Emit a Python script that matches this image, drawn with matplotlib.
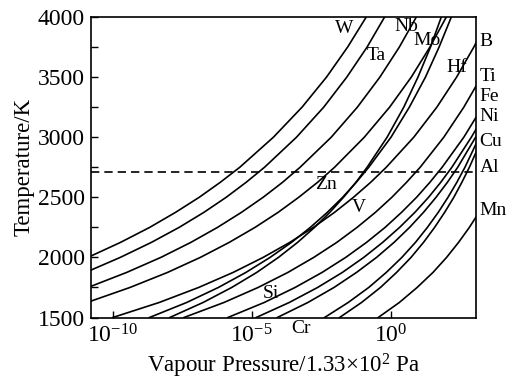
import matplotlib
matplotlib.use("Agg")
import matplotlib.pyplot as plt
import matplotlib.transforms as mtransforms

plt.rcParams["font.family"] = ["Liberation Serif", "DejaVu Serif"]
plt.rcParams["mathtext.fontset"] = "custom"
plt.rcParams["mathtext.rm"] = "Liberation Serif"
plt.rcParams["mathtext.it"] = "Liberation Serif:italic"

# each curve: temperatures (K) and log10 of vapour pressure at those temperatures
T_W = [2010, 2125, 2250, 2375, 2500, 2625, 2750, 3000, 3250, 3500, 3750, 4000]
lp_W = [-10.80, -9.72, -8.67, -7.74, -6.89, -6.13, -5.43, -4.22, -3.19, -2.31, -1.55, -0.88]

T_Ta = [1893, 2000, 2125, 2250, 2375, 2500, 2625, 2750, 3000, 3250, 3500, 3750, 4000]
lp_Ta = [-10.80, -9.73, -8.61, -7.61, -6.72, -5.92, -5.20, -4.54, -3.39, -2.41, -1.58, -0.85, -0.22]

T_Nb = [1758, 1875, 2000, 2125, 2250, 2375, 2500, 2625, 2750, 3000, 3250, 3500, 3750, 4000]
lp_Nb = [-10.80, -9.50, -8.27, -7.19, -6.23, -5.37, -4.59, -3.89, -3.26, -2.14, -1.20, -0.39, 0.31, 0.92]

T_Mo = [1635, 1750, 1875, 2000, 2125, 2250, 2375, 2500, 2625, 2750, 3000, 3250, 3500, 3750, 4000]
lp_Mo = [-10.80, -9.38, -8.03, -6.85, -5.81, -4.88, -4.05, -3.31, -2.63, -2.02, -0.95, -0.04, 0.74, 1.41, 2.00]

T_B = [1500, 1625, 1750, 1875, 2000, 2125, 2250, 2375, 2500, 2625, 2750, 3000, 3250, 3500, 3750, 3790]
lp_B = [-10.00, -8.33, -6.91, -5.67, -4.59, -3.63, -2.78, -2.02, -1.34, -0.72, -0.16, 0.83, 1.66, 2.37, 2.99, 3.08]

T_Hf = [1500, 1625, 1750, 1875, 2000, 2125, 2250, 2375, 2500, 2625, 2750, 3000, 3250, 3500, 3750, 4000]
lp_Hf = [-8.68, -7.34, -6.20, -5.21, -4.34, -3.57, -2.89, -2.28, -1.73, -1.24, -0.79, 0.01, 0.67, 1.25, 1.74, 2.18]

T_V = [1500, 1625, 1750, 1875, 2000, 2125, 2250, 2375, 2500, 2625, 2750, 3000, 3250, 3500, 3750, 4000]
lp_V = [-7.95, -6.75, -5.72, -4.82, -4.04, -3.35, -2.74, -2.19, -1.70, -1.25, -0.85, -0.13, 0.47, 0.98, 1.43, 1.82]

T_Ti = [1500, 1625, 1750, 1875, 2000, 2125, 2250, 2375, 2500, 2625, 2750, 3000, 3250, 3430]
lp_Ti = [-7.44, -6.00, -4.77, -3.70, -2.77, -1.94, -1.21, -0.55, 0.04, 0.57, 1.06, 1.91, 2.63, 3.08]

T_Fe = [1500, 1625, 1750, 1875, 2000, 2125, 2250, 2375, 2500, 2625, 2750, 3000, 3170]
lp_Fe = [-5.86, -4.55, -3.44, -2.47, -1.62, -0.87, -0.20, 0.39, 0.93, 1.41, 1.85, 2.63, 3.08]

T_Ni = [1500, 1625, 1750, 1875, 2000, 2125, 2250, 2375, 2500, 2625, 2750, 3000, 3070]
lp_Ni = [-4.84, -3.65, -2.63, -1.74, -0.97, -0.29, 0.32, 0.87, 1.36, 1.80, 2.20, 2.90, 3.08]

T_Si = [1500, 1625, 1750, 1875, 2000, 2125, 2250, 2375, 2500, 2625, 2750, 3010]
lp_Si = [-4.08, -2.98, -2.04, -1.23, -0.51, 0.12, 0.68, 1.18, 1.63, 2.04, 2.41, 3.08]

T_Cu = [1500, 1625, 1750, 1875, 2000, 2125, 2250, 2375, 2500, 2625, 2750, 2950]
lp_Cu = [-2.38, -1.53, -0.79, -0.16, 0.40, 0.89, 1.32, 1.71, 2.06, 2.38, 2.67, 3.08]

T_Al = [1500, 1625, 1750, 1875, 2000, 2125, 2250, 2375, 2500, 2625, 2750, 2880]
lp_Al = [-1.84, -1.05, -0.37, 0.21, 0.73, 1.18, 1.58, 1.94, 2.27, 2.56, 2.83, 3.08]

T_Mn = [1500, 1625, 1750, 1875, 2000, 2125, 2250, 2340]
lp_Mn = [-0.45, 0.31, 0.95, 1.52, 2.01, 2.44, 2.83, 3.08]

curves = [
    (T_W, lp_W), (T_Ta, lp_Ta), (T_Nb, lp_Nb), (T_Mo, lp_Mo),
    (T_B, lp_B), (T_Hf, lp_Hf), (T_V, lp_V), (T_Ti, lp_Ti),
    (T_Fe, lp_Fe), (T_Ni, lp_Ni), (T_Si, lp_Si), (T_Cu, lp_Cu),
    (T_Al, lp_Al), (T_Mn, lp_Mn),
]

T_dash = 2710

# labels inside the frame: (text, log10 p, T)
inner_labels = [
    ("W", -1.68, 3904), ("Ta", -0.53, 3679), ("Nb", 0.55, 3921),
    ("Mo", 1.31, 3804), ("Hf", 2.39, 3579), ("Zn", -2.33, 2604),
    ("V", -1.14, 2412), ("Si", -4.31, 1696), ("Cr", -3.23, 1412),
]
# labels to the right of the frame: (text, T)
side_labels = [
    ("B", 3796), ("Ti", 3504), ("Fe", 3337), ("Ni", 3171),
    ("Cu", 2962), ("Al", 2746), ("Mn", 2387),
]

fig = plt.figure(figsize=(5.1, 3.83), dpi=100)
ax = fig.add_axes([0.1775, 0.171, 0.7565, 0.7846])

for T, lp in curves:
    ax.plot([10.0 ** v for v in lp], T, color="black", lw=1.2)

ax.axhline(T_dash, color="black", lw=1.2, ls=(0, (5, 3)))

ax.set_xscale("log")
ax.set_xlim(10 ** -10.8, 10 ** 3.08)
ax.set_ylim(1500, 4000)
ax.set_xticks([1e-10, 1e-5, 1e0])
ax.set_xticklabels(["$10^{-10}$", "$10^{-5}$", "$10^{0}$"])
ax.xaxis.set_minor_locator(matplotlib.ticker.NullLocator())
ax.set_yticks([1500, 2000, 2500, 3000, 3500, 4000])
ax.set_yticks([1750, 2250, 2750, 3250, 3750], minor=True)
ax.tick_params(which="both", direction="in", length=5, width=1.0,
               labelsize=17, top=False, right=False)
ax.tick_params(axis="x", pad=5)
ax.tick_params(axis="y", pad=4)
for s in ax.spines.values():
    s.set_linewidth(1.2)

ax.set_xlabel("Vapour Pressure/1.33$\\times$10$^2$ Pa", fontsize=16.5, labelpad=3)
ax.set_ylabel("Temperature/K", fontsize=16.5, labelpad=2)

for txt, lp, T in inner_labels:
    ax.text(10.0 ** lp, T, txt, fontsize=14, ha="center", va="center",
            clip_on=False)

side = mtransforms.blended_transform_factory(ax.transAxes, ax.transData)
for txt, T in side_labels:
    ax.text(1.008, T, txt, transform=side, fontsize=14, ha="left",
            va="center", clip_on=False)

fig.savefig("out.png", dpi=100)
